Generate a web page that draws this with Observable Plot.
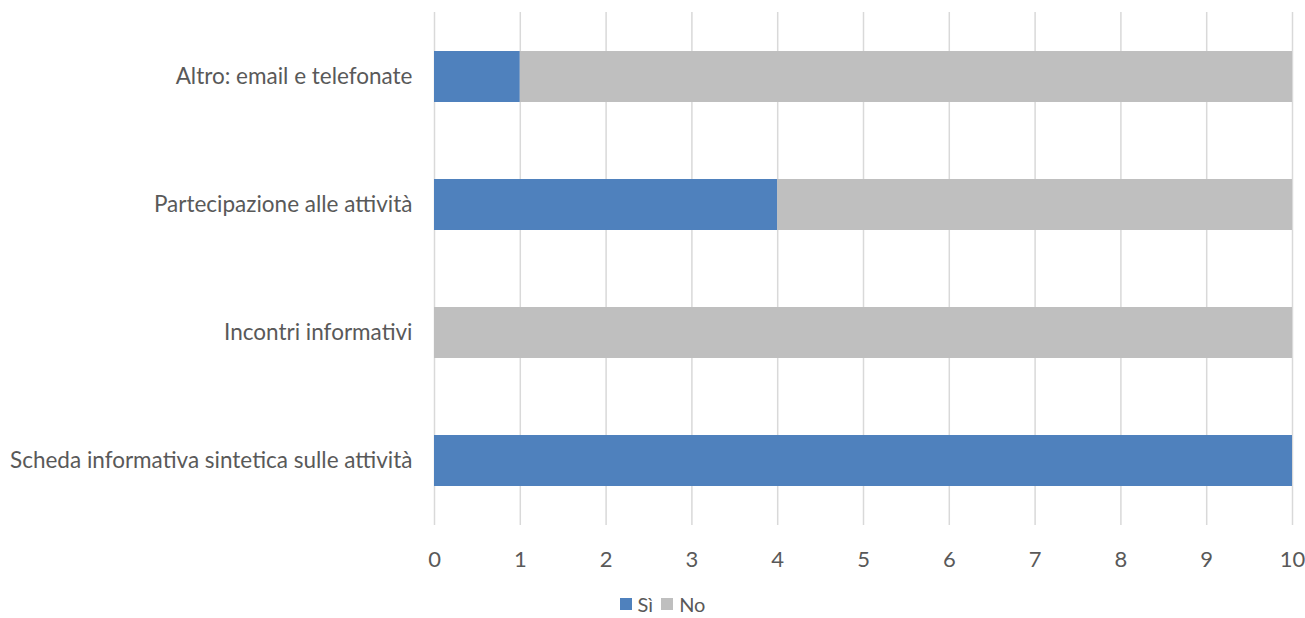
<!DOCTYPE html>
<html><head><meta charset="utf-8">
<script src="https://cdn.jsdelivr.net/npm/d3@7"></script>
<script src="https://cdn.jsdelivr.net/npm/@observablehq/plot@0.6"></script>
<style>
body{margin:0;background:#fff;font-family:Lato,sans-serif;overflow:hidden;}
#chart svg{display:block;}
#legend{display:flex;justify-content:center;align-items:center;gap:8px;font-size:20px;line-height:24px;height:24px;color:#595959;margin-top:17px;padding-left:20px;}
.sw{display:inline-block;width:12px;height:12px;margin-right:6px;}
.item{display:flex;align-items:center;}
</style></head><body>
<div id="chart"></div>
<div id="legend"></div>
<script>
const categories = ["Altro: email e telefonate","Partecipazione alle attività","Incontri informativi","Scheda informativa sintetica sulle attività"];
const si = [1,4,0,10];
const no = [9,6,10,0];
const seriesNames = ["Sì","No"];
const colors = ["#4F81BD","#BFBFBF"];
const xTicks = [0,1,2,3,4,5,6,7,8,9,10];

const data = [];
categories.forEach((c,i)=>{
  data.push({cat:c, series:"Sì", value:si[i]});
  data.push({cat:c, series:"No", value:no[i]});
});

const chart = Plot.plot({
  width:1305, height:575,
  marginLeft:434, marginRight:13, marginTop:12, marginBottom:50,
  style:{fontFamily:"Lato, sans-serif", fontSize:"22px", color:"#595959"},
  x:{domain:[0,10], ticks:xTicks, grid:false, label:null},
  y:{domain:categories, paddingInner:0.6, paddingOuter:0.3, label:null},
  color:{domain:seriesNames, range:colors},
  marks:[
    Plot.gridX(xTicks,{stroke:"#D9D9D9", strokeOpacity:1, strokeWidth:1.5}),
    Plot.barX(data, Plot.stackX({x:"value", y:"cat", fill:"series", order:seriesNames})),
    Plot.axisX({ticks:xTicks, tickSize:0, tickPadding:26, fontSize:22, fill:"#595959", label:null}),
    Plot.axisY({tickSize:0, tickPadding:22, fontSize:22.5, fill:"#595959", label:null})
  ]
});
document.getElementById("chart").appendChild(chart);

const lg = document.getElementById("legend");
seriesNames.forEach((s,i)=>{
  const it = document.createElement("span");
  it.className="item";
  it.innerHTML = `<span class="sw" style="background:${colors[i]}"></span>${s}`;
  lg.appendChild(it);
});
</script>
</body></html>
